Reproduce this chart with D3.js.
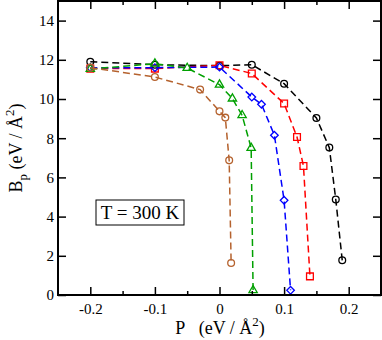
<!DOCTYPE html>
<html><head><meta charset="utf-8">
<script src="https://cdn.jsdelivr.net/npm/d3@7"></script>
<style>body{margin:0;background:#fff}svg{display:block}</style>
</head><body><svg id="c" width="382" height="340"></svg>
<script>
const xTicks = [-0.2, -0.1, 0, 0.1, 0.2];
const xMinorTicks = [-0.15, -0.05, 0.05, 0.15];
const yTicks = [0, 2, 4, 6, 8, 10, 12, 14];
const xTickLabels = ["-0.2", "-0.1", "0", "0.1", "0.2"];

const blackX = [-0.2, -0.1, 0, 0.05, 0.1, 0.15, 0.17, 0.18, 0.19];
const blackY = [11.9, 11.75, 11.7, 11.75, 10.78, 9.03, 7.52, 4.87, 1.77];
const redX = [-0.2, -0.1, 0, 0.05, 0.1, 0.12, 0.13, 0.14];
const redY = [11.55, 11.55, 11.72, 11.3, 9.77, 8.06, 6.58, 0.95];
const blueX = [-0.2, -0.1, 0, 0.05, 0.065, 0.085, 0.1, 0.11];
const blueY = [11.6, 11.6, 11.63, 10.1, 9.73, 8.15, 4.83, 0.24];
const greenX = [-0.2, -0.1, -0.05, 0, 0.02, 0.035, 0.049, 0.052];
const greenY = [11.53, 11.8, 11.58, 10.73, 10.02, 9.17, 7.5, 0.24];
const brownX = [-0.2, -0.1, -0.03, 0, 0.009, 0.015, 0.018];
const brownY = [11.6, 11.12, 10.48, 9.37, 9.05, 6.87, 1.63];

const series = [
  {x: blackX, y: blackY, color: "#000000", shape: "circle"},
  {x: redX, y: redY, color: "#ff0000", shape: "square"},
  {x: blueX, y: blueY, color: "#0000ff", shape: "diamond"},
  {x: greenX, y: greenY, color: "#00a000", shape: "triangle"},
  {x: brownX, y: brownY, color: "#b5622e", shape: "circle"}
];

const L = 58, R = 381, T = 1, B = 295;
const x = d3.scaleLinear().domain([-0.25, 0.25]).range([L, R]);
const y = d3.scaleLinear().domain([0, 15]).range([B, T]);
const svg = d3.select("#c");
const font = "'Liberation Serif','Times New Roman',serif";

// series
const line = d3.line().x(d => x(d[0])).y(d => y(d[1]));
const squareDiamond = {draw(ctx, s) { const r = Math.sqrt(s) / 2 * 1.2;
  ctx.moveTo(0, -r); ctx.lineTo(r, 0); ctx.lineTo(0, r); ctx.lineTo(-r, 0); ctx.closePath(); }};
const sym = {circle: d3.symbolCircle, square: d3.symbolSquare, diamond: squareDiamond, triangle: d3.symbolTriangle};
const size = {circle: 36, square: 46, diamond: 40, triangle: 30};
series.forEach(s => {
  const pts = s.x.map((v, i) => [v, s.y[i]]);
  svg.append("path").attr("d", line(pts)).attr("fill", "none")
    .attr("stroke", s.color).attr("stroke-width", 1.5).attr("stroke-dasharray", "7,4");
  svg.append("g").selectAll("path").data(pts).join("path")
    .attr("transform", d => `translate(${x(d[0])},${y(d[1])})`)
    .attr("d", d3.symbol().type(sym[s.shape]).size(size[s.shape]))
    .attr("fill", "none").attr("stroke", s.color).attr("stroke-width", 1.3);
});

// axes
function styleAxis(g) {
  g.select(".domain").remove();
  g.selectAll("line").attr("stroke", "#000").attr("stroke-width", 1.5);
  g.selectAll("text").attr("font-family", font).attr("font-size", 15).attr("fill", "#000");
}
svg.append("g").attr("transform", `translate(0,${B})`)
  .call(d3.axisBottom(x).tickValues(xTicks).tickSize(-8).tickPadding(8).tickFormat((d, i) => xTickLabels[i]))
  .call(styleAxis);
svg.append("g").attr("transform", `translate(0,${B})`)
  .call(d3.axisBottom(x).tickValues(xMinorTicks).tickSize(-4).tickFormat(""))
  .call(styleAxis);
svg.append("g").attr("transform", `translate(0,${T})`)
  .call(d3.axisTop(x).tickValues(xTicks).tickSize(-8).tickFormat(""))
  .call(styleAxis);
svg.append("g").attr("transform", `translate(0,${T})`)
  .call(d3.axisTop(x).tickValues(xMinorTicks).tickSize(-4).tickFormat(""))
  .call(styleAxis);
svg.append("g").attr("transform", `translate(${L},0)`)
  .call(d3.axisLeft(y).tickValues(yTicks).tickSize(-8).tickPadding(4))
  .call(styleAxis);
svg.append("g").attr("transform", `translate(${R},0)`)
  .call(d3.axisRight(y).tickValues(yTicks).tickSize(-8).tickFormat(""))
  .call(styleAxis);

svg.append("rect").attr("x", L).attr("y", T).attr("width", R - L).attr("height", B - T)
  .attr("fill", "none").attr("stroke", "#000").attr("stroke-width", 2);

// axis labels
const xl = svg.append("text").attr("x", 220).attr("y", 334).attr("text-anchor", "middle")
  .attr("font-family", font).attr("font-size", 18);
xl.append("tspan").text("P\u00a0\u00a0\u00a0(eV / Å");
xl.append("tspan").attr("dy", -8).attr("font-size", 13).text("2");
xl.append("tspan").attr("dy", 8).text(")");

const yl = svg.append("text").attr("transform", "translate(22,148) rotate(-90)")
  .attr("text-anchor", "middle").attr("font-family", font).attr("font-size", 18);
yl.append("tspan").text("B");
yl.append("tspan").attr("dy", 5).attr("font-size", 13).text("p");
yl.append("tspan").attr("dy", -5).text("\u00a0(eV / Å");
yl.append("tspan").attr("dy", -8).attr("font-size", 13).text("2");
yl.append("tspan").attr("dy", 8).text(")");

// legend box
svg.append("rect").attr("x", 96).attr("y", 200).attr("width", 88).attr("height", 25)
  .attr("fill", "#fff").attr("stroke", "#000").attr("stroke-width", 1);
svg.append("text").attr("x", 140).attr("y", 219).attr("text-anchor", "middle")
  .attr("font-family", font).attr("font-size", 19).text("T = 300 K");
</script></body></html>
